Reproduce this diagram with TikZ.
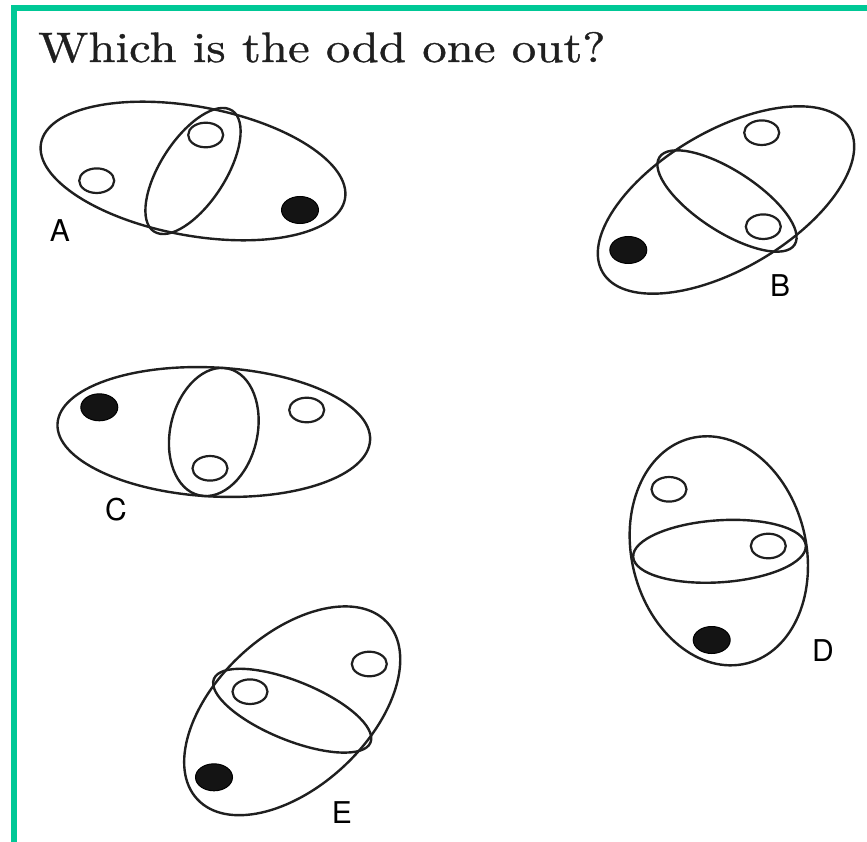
\documentclass[tikz,border=0pt]{standalone}
\usepackage{fontspec}
\newfontfamily\labfont{TeX Gyre Heros}
\newfontfamily\titlefont[FakeBold=0.8]{Latin Modern Roman}
\definecolor{framegreen}{RGB}{0,200,150}
\tikzset{
  outline/.style={draw=black!88, line width=2.4pt},
  ring/.style={draw=black!88, line width=2.2pt},
  blackdot/.style={draw=black, fill=black!92, line width=1pt},
  lab/.style={font=\labfont\fontsize{30}{30}\selectfont, inner sep=0pt, anchor=base},
}
\newcommand{\ovalat}[5]{\draw[outline, rotate around={#5:(#1,#2)}] (#1,#2) ellipse [x radius=#3, y radius=#4];}
\newcommand{\ringat}[2]{\draw[ring] (#1,#2) ellipse [x radius=17.5, y radius=12.3];}
\newcommand{\dotat}[2]{\draw[blackdot] (#1,#2) ellipse [x radius=18.5, y radius=13.5];}
\begin{document}
\begin{tikzpicture}[x=1pt,y=-1pt]
\useasboundingbox (0,0) rectangle (867,842);
% frame
\fill[framegreen] (11,5) rectangle (867,11);
\fill[framegreen] (11,5) rectangle (16.7,842);
% title
\node[anchor=base west, inner sep=0pt, text=black!88] (title) at (38,62) {\resizebox{567pt}{30pt}{\titlefont Which is the odd one out?}};
% A
\ovalat{193}{171}{154.5}{64.5}{-10.4}
\ovalat{193}{171}{72}{32.5}{57.2}
\ringat{205.7}{135}
\ringat{96.7}{180.7}
\dotat{300}{210}
\node[lab] (labA) at (60,242) {A};
% B
\ovalat{726}{200}{143}{69}{30.4}
\ovalat{727}{201}{80.5}{30.5}{-32.9}
\ringat{761.7}{132.7}
\ringat{763.3}{226.7}
\dotat{628.3}{250}
\node[lab] (labB) at (780,297) {B};
% C
\ovalat{213.8}{432}{156.5}{64.5}{-3}
\ovalat{213.8}{432}{65}{43.5}{77}
\dotat{99.3}{407.3}
\ringat{306.7}{410}
\ringat{210}{468.3}
\node[lab] (labC) at (116,520) {C};
% D
\ovalat{718.8}{550.8}{116}{87.2}{104}
\ovalat{719.5}{551.3}{86.5}{31}{3.8}
\ringat{669}{489.3}
\ringat{768.3}{546}
\dotat{711.7}{640}
\node[lab] (labD) at (823,661.7) {D};
% E
\ovalat{292.2}{710.8}{129.7}{75.8}{43}
\ovalat{292.2}{710.7}{84.5}{29.5}{-22.1}
\ringat{369.3}{664}
\ringat{250}{691.7}
\dotat{214}{777.3}
\node[lab] (labE) at (342,823) {E};
\end{tikzpicture}
\end{document}
